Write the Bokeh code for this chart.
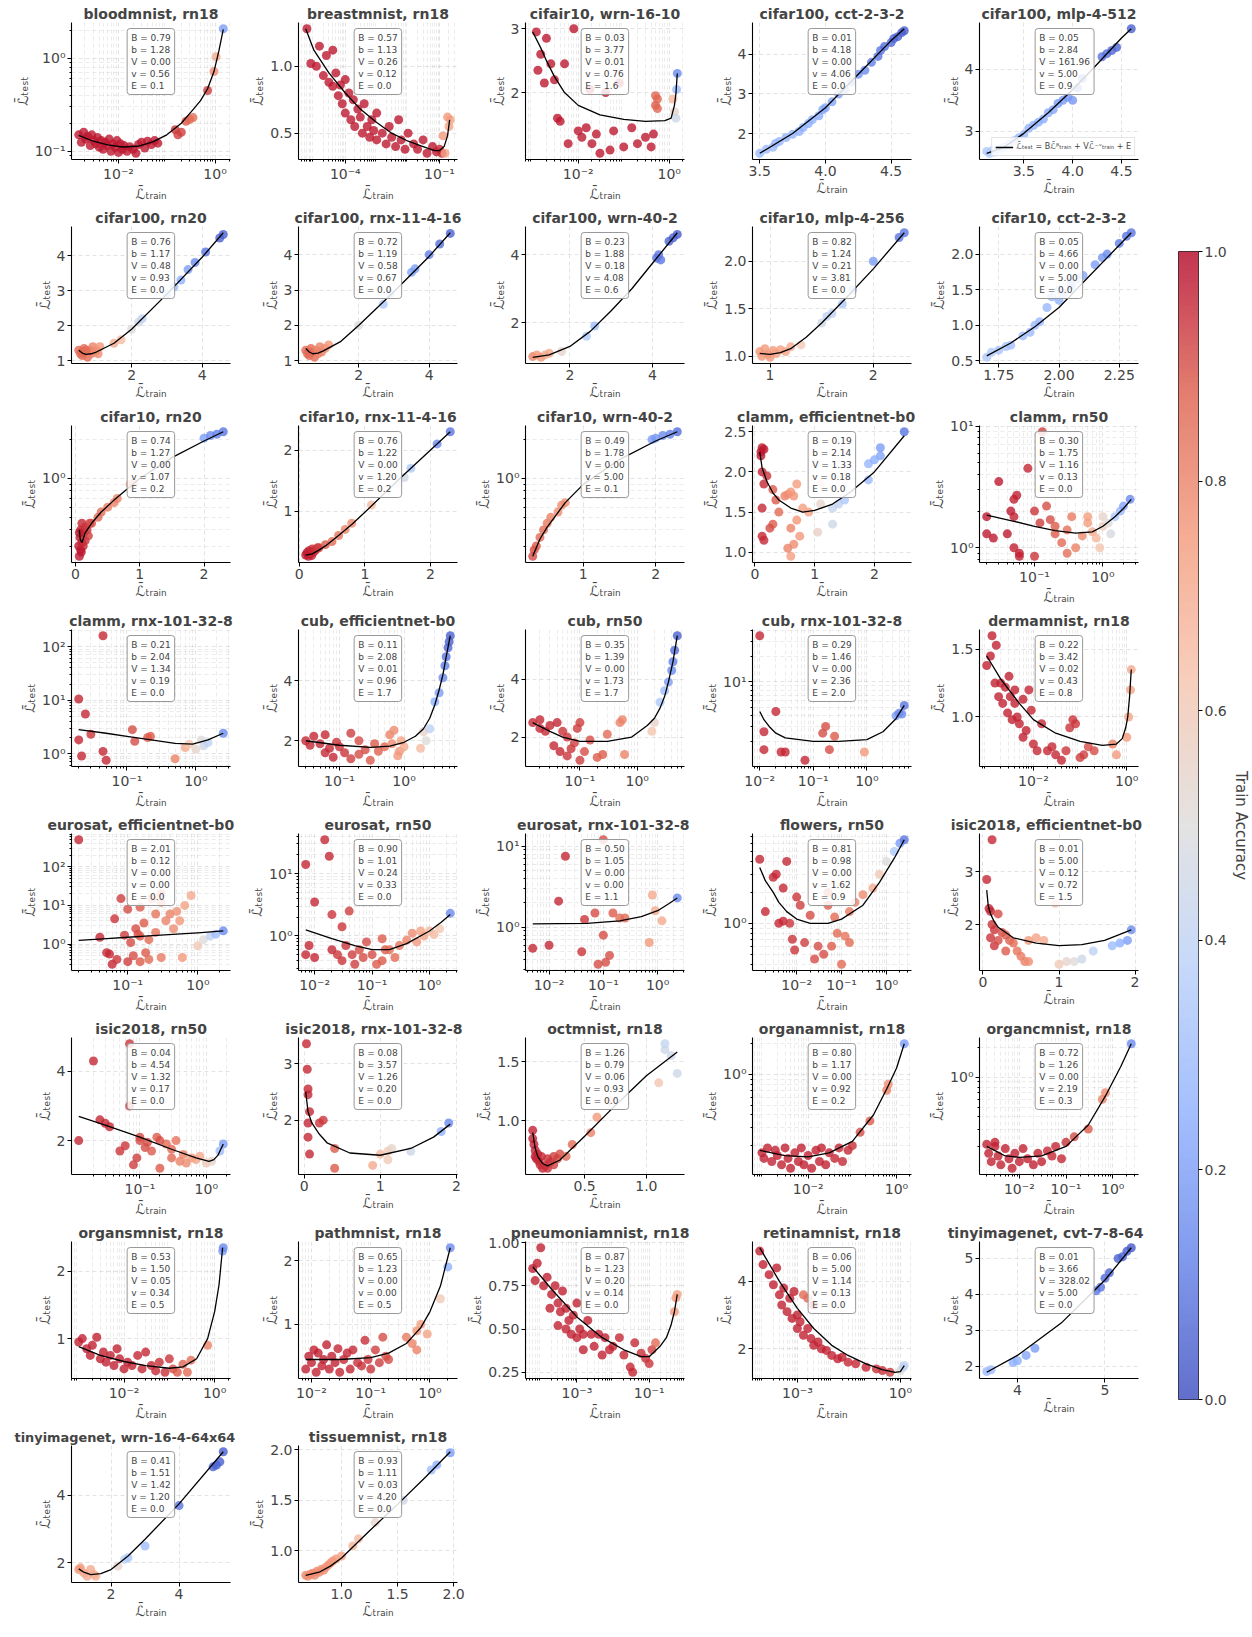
import numpy as np
from bokeh.plotting import figure
from bokeh.models import (Label, Legend, LegendItem, FixedTicker, CustomJSTickFormatter,
                          PrintfTickFormatter, LinearColorMapper, Spacer, ColumnDataSource)
from bokeh.layouts import row, column
from bokeh.transform import linear_cmap
from bokeh.embed import file_html
from bokeh.resources import INLINE

# ---------------- data ----------------
TITLES = [
    "bloodmnist, rn18", "breastmnist, rn18", "cifair10, wrn-16-10", "cifar100, cct-2-3-2", "cifar100, mlp-4-512",
    "cifar100, rn20", "cifar100, rnx-11-4-16", "cifar100, wrn-40-2", "cifar10, mlp-4-256", "cifar10, cct-2-3-2",
    "cifar10, rn20", "cifar10, rnx-11-4-16", "cifar10, wrn-40-2", "clamm, efficientnet-b0", "clamm, rn50",
    "clamm, rnx-101-32-8", "cub, efficientnet-b0", "cub, rn50", "cub, rnx-101-32-8", "dermamnist, rn18",
    "eurosat, efficientnet-b0", "eurosat, rn50", "eurosat, rnx-101-32-8", "flowers, rn50", "isic2018, efficientnet-b0",
    "isic2018, rn50", "isic2018, rnx-101-32-8", "octmnist, rn18", "organamnist, rn18", "organcmnist, rn18",
    "organsmnist, rn18", "pathmnist, rn18", "pneumoniamnist, rn18", "retinamnist, rn18", "tinyimagenet, cvt-7-8-64",
    "tinyimagenet, wrn-16-4-64x64", "tissuemnist, rn18",
]

# fitted parameters (B, b, V, v, E) as printed
PARAMS = [
    ("0.79", "1.28", "0.00", "0.56", "0.1"), ("0.57", "1.13", "0.26", "0.12", "0.0"),
    ("0.03", "3.77", "0.01", "0.76", "1.6"), ("0.01", "4.18", "0.00", "4.06", "0.0"),
    ("0.05", "2.84", "161.96", "5.00", "0.9"), ("0.76", "1.17", "0.48", "0.93", "0.0"),
    ("0.72", "1.19", "0.58", "0.67", "0.0"), ("0.23", "1.88", "0.18", "4.08", "0.6"),
    ("0.82", "1.24", "0.21", "3.81", "0.0"), ("0.05", "4.66", "0.00", "5.00", "0.0"),
    ("0.74", "1.27", "0.00", "1.07", "0.2"), ("0.76", "1.22", "0.00", "1.20", "0.2"),
    ("0.49", "1.78", "0.00", "5.00", "0.1"), ("0.19", "2.14", "1.33", "0.18", "0.0"),
    ("0.30", "1.75", "1.16", "0.13", "0.0"), ("0.21", "2.04", "1.34", "0.19", "0.0"),
    ("0.11", "2.08", "0.01", "0.96", "1.7"), ("0.35", "1.39", "0.00", "1.73", "1.7"),
    ("0.29", "1.46", "0.00", "2.36", "2.0"), ("0.22", "3.42", "0.02", "0.43", "0.8"),
    ("2.01", "0.12", "0.00", "0.00", "0.0"), ("0.90", "1.01", "0.24", "0.33", "0.0"),
    ("0.50", "1.05", "0.00", "0.00", "1.1"), ("0.81", "0.98", "0.00", "1.62", "0.9"),
    ("0.01", "5.00", "0.12", "0.72", "1.5"), ("0.04", "4.54", "1.32", "0.17", "0.0"),
    ("0.08", "3.57", "1.26", "0.20", "0.0"), ("1.26", "0.79", "0.06", "0.93", "0.0"),
    ("0.80", "1.17", "0.00", "0.92", "0.2"), ("0.72", "1.26", "0.00", "2.19", "0.3"),
    ("0.53", "1.50", "0.05", "0.34", "0.5"), ("0.65", "1.23", "0.00", "0.00", "0.5"),
    ("0.87", "1.23", "0.20", "0.14", "0.0"), ("0.06", "5.00", "1.14", "0.13", "0.0"),
    ("0.01", "3.66", "328.02", "5.00", "0.0"), ("0.41", "1.51", "1.42", "1.20", "0.0"),
    ("0.93", "1.11", "0.03", "4.20", "0.0"),
]

# scatter points (train loss, test loss, train accuracy) and fitted-curve points (train loss, test loss)
BLOODMNIST_RN18_PTS = [
    (0.0015, 0.150, 0.97), (0.0017, 0.125, 0.97), (0.0019, 0.160, 0.97), (0.0021, 0.135, 0.97), (0.0023, 0.145, 0.97),
    (0.0026, 0.115, 0.97), (0.0028, 0.150, 0.97), (0.0031, 0.130, 0.97), (0.0034, 0.120, 0.97), (0.0037, 0.140, 0.97),
    (0.0040, 0.110, 0.97), (0.0044, 0.130, 0.97), (0.0048, 0.105, 0.97), (0.0053, 0.125, 0.97), (0.0058, 0.115, 0.97),
    (0.0064, 0.135, 0.97), (0.0070, 0.100, 0.97), (0.0077, 0.120, 0.97), (0.0085, 0.110, 0.97), (0.0093, 0.130, 0.97),
    (0.0100, 0.097, 0.97), (0.0110, 0.120, 0.97), (0.0120, 0.105, 0.97), (0.0130, 0.115, 0.97), (0.0150, 0.100, 0.97),
    (0.0170, 0.112, 0.97), (0.0200, 0.105, 0.97), (0.0230, 0.095, 0.97), (0.0260, 0.118, 0.97), (0.0300, 0.125, 0.97),
    (0.0350, 0.108, 0.97), (0.0400, 0.128, 0.97), (0.0480, 0.118, 0.97), (0.0560, 0.130, 0.97), (0.0650, 0.122, 0.97),
    (0.15, 0.17, 0.93), (0.17, 0.15, 0.92), (0.20, 0.16, 0.92), (0.25, 0.21, 0.88), (0.30, 0.22, 0.86),
    (0.35, 0.23, 0.84), (0.70, 0.45, 0.92), (0.95, 0.72, 0.78), (1.05, 1.04, 0.70), (1.48, 2.08, 0.20),
]
BLOODMNIST_RN18_FIT = [(0.0015, 0.148), (0.003, 0.128), (0.006, 0.117), (0.012, 0.111), (0.025, 0.113), (0.05, 0.125),
                       (0.1, 0.15), (0.2, 0.2), (0.35, 0.28), (0.5, 0.35), (0.7, 0.47), (0.95, 0.72), (1.2, 1.2), (1.48, 2.05)]

BREASTMNIST_RN18_PTS = [
    (6e-6, 1.28, 0.97), (8e-6, 1.02, 0.97), (1.2e-5, 1.00, 0.97), (1.5e-5, 1.15, 0.97), (2e-5, 0.93, 0.97),
    (2.5e-5, 1.08, 0.97), (3e-5, 0.88, 0.97), (4e-5, 1.12, 0.97), (4e-5, 0.85, 0.97), (5e-5, 0.95, 0.97),
    (6e-5, 0.78, 0.97), (7e-5, 0.86, 0.97), (8e-5, 0.72, 0.97), (1e-4, 0.90, 0.97), (1e-4, 0.65, 0.97),
    (1.3e-4, 0.80, 0.97), (1.5e-4, 0.60, 0.97), (1.8e-4, 0.75, 0.97), (2e-4, 0.55, 0.97), (2.5e-4, 0.68, 0.97),
    (3e-4, 0.62, 0.97), (3.5e-4, 0.50, 0.97), (4e-4, 0.72, 0.97), (5e-4, 0.55, 0.97), (6e-4, 0.47, 0.97),
    (7e-4, 0.60, 0.97), (8e-4, 0.52, 0.97), (1e-3, 0.45, 0.97), (1e-3, 0.65, 0.97), (1.5e-3, 0.50, 0.97),
    (2e-3, 0.42, 0.97), (2.5e-3, 0.55, 0.97), (3e-3, 0.47, 0.97), (4e-3, 0.40, 0.97), (5e-3, 0.60, 0.97),
    (6e-3, 0.45, 0.97), (8e-3, 0.38, 0.97), (1e-2, 0.50, 0.97), (1.5e-2, 0.42, 0.97), (2e-2, 0.38, 0.97),
    (3e-2, 0.45, 0.97), (4e-2, 0.35, 0.97), (6e-2, 0.40, 0.97), (8e-2, 0.36, 0.97), (0.10, 0.38, 0.95),
    (0.12, 0.35, 0.95), (0.13, 0.48, 0.75), (0.15, 0.35, 0.72), (0.20, 0.55, 0.72), (0.22, 0.60, 0.72),
    (0.18, 0.62, 0.75),
]
BREASTMNIST_RN18_FIT = [(5.5e-6, 1.28), (1e-5, 1.12), (3e-5, 0.95), (1e-4, 0.80), (3e-4, 0.68), (1e-3, 0.58), (3e-3, 0.50),
                        (1e-2, 0.44), (3e-2, 0.40), (0.07, 0.37), (0.1, 0.37), (0.14, 0.40), (0.18, 0.48), (0.21, 0.60)]

CIFAIR10_WRN_PTS = [
    (0.0012, 2.95, 0.97), (0.0015, 2.60, 0.97), (0.0013, 2.35, 0.97), (0.0018, 2.15, 0.97), (0.002, 2.85, 0.97),
    (0.0025, 2.45, 0.97), (0.003, 2.20, 0.97), (0.0035, 1.60, 0.97), (0.004, 1.55, 0.97), (0.005, 2.45, 0.97),
    (0.006, 1.20, 0.97), (0.008, 3.00, 0.97), (0.01, 1.40, 0.97), (0.012, 1.30, 0.97), (0.015, 1.45, 0.97),
    (0.018, 2.05, 0.97), (0.02, 1.20, 0.97), (0.025, 1.35, 0.97), (0.03, 1.05, 0.97), (0.04, 2.00, 0.97),
    (0.05, 1.10, 0.97), (0.06, 1.40, 0.97), (0.08, 2.15, 0.97), (0.1, 1.15, 0.97), (0.15, 1.45, 0.97),
    (0.2, 1.20, 0.97), (0.3, 1.30, 0.97), (0.4, 1.15, 0.97), (0.45, 1.35, 0.97), (0.5, 1.80, 0.88),
    (0.55, 1.90, 0.86), (0.5, 1.95, 0.86), (0.55, 1.75, 0.86), (1.2, 1.90, 0.66), (1.3, 1.70, 0.55),
    (1.4, 1.60, 0.45), (1.45, 2.05, 0.30), (1.5, 2.30, 0.15),
]
CIFAIR10_WRN_FIT = [(0.001, 2.95), (0.0015, 2.7), (0.002, 2.5), (0.003, 2.25), (0.005, 2.0), (0.01, 1.8), (0.03, 1.65),
                    (0.1, 1.58), (0.3, 1.55), (0.8, 1.56), (1.1, 1.6), (1.3, 1.8), (1.4, 1.98), (1.5, 2.3)]

CIFAR100_CCT_PTS = [
    (3.50, 1.50, 0.30), (3.55, 1.60, 0.30), (3.60, 1.65, 0.30), (3.62, 1.75, 0.28), (3.65, 1.80, 0.28),
    (3.70, 1.90, 0.27), (3.75, 1.98, 0.27), (3.80, 2.05, 0.26), (3.83, 2.15, 0.25), (3.87, 2.25, 0.25),
    (3.90, 2.35, 0.25), (3.95, 2.45, 0.24), (3.98, 2.60, 0.23), (4.00, 2.65, 0.23), (4.05, 2.80, 0.22),
    (4.10, 3.00, 0.20), (4.15, 3.10, 0.20), (4.20, 3.30, 0.18), (4.25, 3.50, 0.17), (4.30, 3.60, 0.15),
    (4.35, 3.80, 0.12), (4.40, 3.95, 0.10), (4.42, 4.10, 0.10), (4.45, 4.20, 0.08), (4.50, 4.30, 0.07),
    (4.52, 4.40, 0.06), (4.55, 4.45, 0.05), (4.58, 4.55, 0.05), (4.60, 4.60, 0.04),
]
CIFAR100_CCT_FIT = [(3.5, 1.5), (3.75, 2.0), (4.0, 2.65), (4.25, 3.5), (4.5, 4.35), (4.6, 4.65)]

CIFAR100_MLP_PTS = [
    (3.12, 2.68, 0.35), (3.15, 2.65, 0.35), (3.18, 2.70, 0.35), (3.20, 2.67, 0.33), (3.25, 2.72, 0.33),
    (3.30, 2.75, 0.32), (3.35, 2.80, 0.30), (3.40, 2.85, 0.30), (3.45, 2.90, 0.28), (3.50, 2.95, 0.28),
    (3.55, 3.05, 0.27), (3.60, 3.10, 0.26), (3.65, 3.15, 0.25), (3.70, 3.20, 0.25), (3.75, 3.30, 0.24),
    (3.80, 3.35, 0.22), (3.85, 3.45, 0.20), (3.90, 3.50, 0.20), (3.95, 3.55, 0.18), (4.00, 3.50, 0.18),
    (4.05, 3.70, 0.15), (4.10, 3.85, 0.15), (4.30, 4.20, 0.10), (4.35, 4.25, 0.08), (4.40, 4.30, 0.07),
    (4.45, 4.35, 0.06), (4.60, 4.65, 0.05),
]
CIFAR100_MLP_FIT = [(3.12, 2.65), (3.3, 2.75), (3.5, 2.97), (3.75, 3.3), (4.0, 3.67), (4.25, 4.08), (4.5, 4.5), (4.6, 4.65)]

CIFAR100_RN20_PTS = [
    (0.50, 1.30, 0.85), (0.55, 1.20, 0.85), (0.60, 1.15, 0.85), (0.65, 1.35, 0.85), (0.70, 1.25, 0.85),
    (0.75, 1.10, 0.85), (0.80, 1.30, 0.80), (0.85, 1.20, 0.80), (0.90, 1.40, 0.80), (0.95, 1.25, 0.80),
    (1.00, 1.30, 0.78), (1.05, 1.20, 0.78), (1.10, 1.40, 0.76), (0.60, 1.25, 0.85), (0.70, 1.30, 0.85),
    (1.50, 1.50, 0.70), (1.70, 1.60, 0.65), (2.00, 1.90, 0.50), (2.20, 2.10, 0.45), (2.30, 2.20, 0.40),
    (3.00, 2.90, 0.30), (3.20, 3.10, 0.30), (3.40, 3.30, 0.25), (3.60, 3.60, 0.20), (3.80, 3.80, 0.15),
    (4.10, 4.10, 0.10), (4.50, 4.50, 0.05), (4.60, 4.60, 0.05),
]
CIFAR100_RN20_FIT = [(0.5, 1.3), (0.6, 1.22), (0.7, 1.18), (0.85, 1.2), (1.0, 1.25), (1.5, 1.5), (2.0, 1.9), (3.0, 2.9),
                     (4.0, 3.95), (4.6, 4.65)]

CIFAR100_RNX_PTS = [
    (0.50, 1.30, 0.85), (0.55, 1.20, 0.85), (0.60, 1.15, 0.85), (0.65, 1.35, 0.85), (0.70, 1.25, 0.85),
    (0.75, 1.10, 0.85), (0.80, 1.30, 0.80), (0.85, 1.20, 0.80), (0.90, 1.40, 0.80), (0.95, 1.25, 0.80),
    (1.05, 1.35, 0.78), (1.15, 1.45, 0.76), (0.60, 1.25, 0.85), (2.00, 2.00, 0.50), (2.70, 2.60, 0.35),
    (2.90, 2.90, 0.30), (3.50, 3.50, 0.22), (3.60, 3.60, 0.20), (4.00, 4.00, 0.12), (4.30, 4.30, 0.08),
    (4.60, 4.60, 0.05),
]
CIFAR100_RNX_FIT = [(0.5, 1.35), (0.6, 1.25), (0.7, 1.2), (0.85, 1.22), (1.0, 1.28), (1.5, 1.55), (2.0, 2.0), (3.0, 2.95),
                    (4.0, 3.95), (4.6, 4.62)]

CIFAR100_WRN_PTS = [
    (1.10, 1.00, 0.80), (1.20, 1.05, 0.75), (1.30, 0.98, 0.75), (1.40, 1.05, 0.70), (1.50, 1.10, 0.70),
    (1.80, 1.15, 0.55), (2.40, 1.60, 0.35), (2.60, 1.90, 0.30), (4.10, 3.90, 0.10), (4.15, 4.00, 0.10),
    (4.20, 3.85, 0.10), (4.40, 4.40, 0.06), (4.50, 4.50, 0.05), (4.60, 4.60, 0.04),
]
CIFAR100_WRN_FIT = [(1.1, 0.98), (1.5, 1.05), (2.0, 1.3), (2.5, 1.75), (3.0, 2.35), (3.5, 3.0), (4.0, 3.75), (4.6, 4.65)]

CIFAR10_MLP_PTS = [
    (0.90, 1.05, 0.75), (0.92, 1.00, 0.75), (0.95, 1.08, 0.75), (0.98, 1.02, 0.75), (1.00, 0.99, 0.75),
    (1.03, 1.06, 0.75), (1.06, 1.03, 0.73), (1.10, 1.07, 0.73), (1.15, 1.05, 0.72), (1.20, 1.10, 0.70),
    (1.30, 1.12, 0.60), (1.50, 1.35, 0.45), (1.55, 1.42, 0.40), (1.60, 1.45, 0.40), (1.70, 1.55, 0.35),
    (1.80, 1.70, 0.30), (2.00, 2.00, 0.20), (2.25, 2.25, 0.10), (2.30, 2.30, 0.10),
]
CIFAR10_MLP_FIT = [(0.9, 1.03), (1.0, 1.02), (1.1, 1.04), (1.2, 1.08), (1.35, 1.2), (1.5, 1.35), (1.75, 1.63), (2.0, 1.92),
                   (2.3, 2.3)]

CIFAR10_CCT_PTS = [
    (1.70, 0.55, 0.35), (1.72, 0.62, 0.35), (1.75, 0.65, 0.33), (1.78, 0.70, 0.33), (1.80, 0.72, 0.32),
    (1.85, 0.85, 0.30), (1.88, 0.90, 0.30), (1.90, 1.00, 0.30), (1.92, 1.05, 0.28), (1.95, 1.25, 0.28),
    (1.97, 1.40, 0.27), (2.00, 1.50, 0.26), (2.02, 1.45, 0.26), (2.05, 1.60, 0.25), (2.07, 1.65, 0.25),
    (2.10, 1.70, 0.22), (2.15, 1.85, 0.20), (2.18, 1.95, 0.18), (2.20, 2.00, 0.15), (2.25, 2.15, 0.12),
    (2.28, 2.25, 0.10), (2.30, 2.30, 0.10), (2.00, 1.35, 0.27), (2.05, 1.55, 0.26),
]
CIFAR10_CCT_FIT = [(1.7, 0.57), (1.8, 0.75), (1.9, 0.98), (2.0, 1.25), (2.1, 1.6), (2.2, 1.95), (2.3, 2.3)]

CIFAR10_RN20_PTS = [
    (0.05, 0.30, 0.97), (0.06, 0.25, 0.97), (0.07, 0.35, 0.97), (0.08, 0.28, 0.97), (0.08, 0.40, 0.96),
    (0.10, 0.32, 0.96), (0.10, 0.45, 0.95), (0.12, 0.30, 0.95), (0.13, 0.38, 0.95), (0.15, 0.42, 0.94),
    (0.15, 0.33, 0.94), (0.18, 0.40, 0.93), (0.20, 0.36, 0.92), (0.22, 0.45, 0.92), (0.06, 0.38, 0.97),
    (0.09, 0.27, 0.97), (0.25, 0.45, 0.90), (0.35, 0.50, 0.85), (0.40, 0.55, 0.85), (0.50, 0.60, 0.82),
    (0.60, 0.65, 0.80), (0.65, 0.70, 0.80), (0.85, 0.90, 0.75), (0.90, 0.92, 0.75), (2.00, 2.05, 0.20),
    (2.10, 2.15, 0.15), (2.20, 2.20, 0.12), (2.30, 2.30, 0.10),
]
CIFAR10_RN20_FIT = [(0.06, 0.40), (0.07, 0.35), (0.08, 0.33), (0.1, 0.32), (0.12, 0.34), (0.15, 0.38), (0.25, 0.45),
                    (0.4, 0.55), (0.6, 0.68), (1.0, 1.0), (1.5, 1.45), (2.0, 1.95), (2.3, 2.3)]

CIFAR10_RNX_PTS = [
    (0.10, 0.28, 0.97), (0.12, 0.32, 0.97), (0.14, 0.26, 0.97), (0.15, 0.35, 0.96), (0.17, 0.30, 0.96),
    (0.19, 0.27, 0.96), (0.20, 0.38, 0.95), (0.22, 0.33, 0.95), (0.25, 0.36, 0.94), (0.28, 0.40, 0.93),
    (0.30, 0.40, 0.92), (0.40, 0.45, 0.88), (0.50, 0.50, 0.85), (0.60, 0.60, 0.83), (0.70, 0.70, 0.80),
    (0.80, 0.80, 0.78), (1.10, 1.10, 0.65), (1.50, 1.45, 0.50), (1.60, 1.55, 0.45), (1.70, 1.70, 0.35),
    (2.10, 2.10, 0.15), (2.30, 2.30, 0.10),
]
CIFAR10_RNX_FIT = [(0.1, 0.28), (0.2, 0.3), (0.3, 0.36), (0.4, 0.43), (0.6, 0.6), (0.8, 0.78), (1.0, 0.98), (1.5, 1.5),
                   (2.0, 2.0), (2.3, 2.3)]

CIFAR10_WRN_PTS = [
    (0.30, 0.25, 0.90), (0.32, 0.28, 0.90), (0.35, 0.30, 0.88), (0.40, 0.35, 0.85), (0.45, 0.40, 0.85),
    (0.50, 0.45, 0.82), (0.55, 0.50, 0.80), (0.65, 0.55, 0.78), (0.70, 0.62, 0.78), (0.75, 0.65, 0.78),
    (1.95, 2.00, 0.20), (2.00, 2.05, 0.18), (2.10, 2.15, 0.15), (2.20, 2.20, 0.12), (2.30, 2.30, 0.08),
]
CIFAR10_WRN_FIT = [(0.3, 0.25), (0.4, 0.34), (0.5, 0.42), (0.75, 0.65), (1.0, 0.9), (1.5, 1.4), (2.0, 1.95), (2.3, 2.3)]

CLAMM_EFF_PTS = [
    (0.10, 2.25, 0.97), (0.12, 2.30, 0.97), (0.15, 2.28, 0.97), (0.10, 2.20, 0.97), (0.12, 2.00, 0.96),
    (0.15, 1.85, 0.95), (0.20, 1.95, 0.93), (0.12, 1.55, 0.95), (0.15, 1.15, 0.95), (0.12, 1.20, 0.95),
    (0.30, 1.78, 0.88), (0.35, 1.65, 0.88), (0.30, 1.35, 0.88), (0.25, 1.30, 0.90), (0.40, 1.50, 0.85),
    (0.50, 1.70, 0.80), (0.55, 1.72, 0.78), (0.60, 1.75, 0.76), (0.65, 1.70, 0.76), (0.70, 1.85, 0.74),
    (0.60, 1.30, 0.80), (0.65, 1.10, 0.78), (0.70, 1.40, 0.76), (0.75, 1.20, 0.75), (0.80, 1.55, 0.74),
    (0.90, 1.50, 0.72), (0.60, 0.95, 0.74), (0.55, 1.05, 0.80), (1.10, 1.85, 0.60), (1.10, 1.60, 0.55),
    (1.05, 1.25, 0.56), (1.30, 1.35, 0.45), (1.30, 1.55, 0.42), (1.40, 1.60, 0.40), (1.50, 1.65, 0.35),
    (1.90, 1.90, 0.30), (1.90, 2.10, 0.28), (2.00, 2.15, 0.25), (2.10, 2.20, 0.22), (2.10, 2.30, 0.20),
    (2.50, 2.50, 0.10),
]
CLAMM_EFF_FIT = [(0.08, 2.25), (0.12, 2.05), (0.2, 1.88), (0.3, 1.74), (0.4, 1.65), (0.6, 1.55), (0.8, 1.5), (1.0, 1.52),
                 (1.3, 1.6), (1.6, 1.75), (2.0, 2.0), (2.5, 2.45)]

CLAMM_RN50_PTS = [
    (0.020, 1.8, 0.97), (0.020, 1.3, 0.97), (0.025, 1.2, 0.97), (0.030, 3.5, 0.97), (0.040, 1.3, 0.97),
    (0.045, 2.0, 0.97), (0.050, 1.8, 0.96), (0.050, 2.5, 0.96), (0.055, 2.7, 0.96), (0.050, 1.0, 0.96),
    (0.060, 0.9, 0.96), (0.060, 0.85, 0.96), (0.080, 4.5, 0.95), (0.10, 2.0, 0.93), (0.10, 0.85, 0.93),
    (0.12, 1.6, 0.92), (0.13, 9.0, 0.92), (0.15, 2.2, 0.90), (0.17, 1.7, 0.90), (0.20, 1.5, 0.88),
    (0.20, 1.3, 0.88), (0.25, 1.1, 0.85), (0.30, 0.9, 0.84), (0.30, 1.4, 0.84), (0.35, 1.8, 0.82),
    (0.40, 1.0, 0.80), (0.50, 1.25, 0.78), (0.60, 1.8, 0.74), (0.60, 1.6, 0.74), (0.70, 1.35, 0.70),
    (0.80, 1.2, 0.66), (0.90, 1.0, 0.62), (1.0, 1.5, 0.58), (1.0, 1.8, 0.55), (1.2, 1.6, 0.50),
    (1.3, 1.3, 0.48), (1.5, 1.8, 0.35), (1.8, 2.0, 0.28), (2.0, 2.2, 0.22), (2.5, 2.5, 0.15),
]
CLAMM_RN50_FIT = [(0.02, 1.85), (0.05, 1.65), (0.1, 1.5), (0.2, 1.38), (0.4, 1.32), (0.7, 1.35), (1.0, 1.5), (1.5, 1.8),
                  (2.0, 2.1), (2.6, 2.5)]

CLAMM_RNX_PTS = [
    (0.020, 10.5, 0.95), (0.020, 1.8, 0.95), (0.022, 0.9, 0.95), (0.025, 5.5, 0.95), (0.030, 2.3, 0.93),
    (0.045, 160.0, 0.95), (0.045, 1.1, 0.95), (0.050, 0.75, 0.95), (0.12, 2.8, 0.90), (0.13, 1.7, 0.90),
    (0.20, 2.0, 0.88), (0.22, 2.1, 0.88), (0.50, 0.8, 0.80), (0.70, 1.3, 0.70), (0.80, 1.5, 0.62),
    (1.00, 1.2, 0.55), (1.20, 1.8, 0.50), (1.30, 1.4, 0.45), (1.50, 1.6, 0.40), (2.50, 2.4, 0.15),
]
CLAMM_RNX_FIT = [(0.02, 2.8), (0.05, 2.4), (0.1, 2.1), (0.2, 1.85), (0.5, 1.55), (0.9, 1.5), (1.5, 1.8), (2.5, 2.4)]

CUB_EFF_PTS = [
    (0.030, 2.00, 0.95), (0.035, 1.85, 0.95), (0.040, 2.15, 0.95), (0.050, 1.90, 0.95), (0.060, 1.60, 0.95),
    (0.060, 2.20, 0.95), (0.070, 1.75, 0.95), (0.080, 1.45, 0.95), (0.090, 1.95, 0.93), (0.10, 1.80, 0.93),
    (0.12, 1.60, 0.93), (0.15, 2.25, 0.92), (0.15, 1.40, 0.92), (0.20, 2.00, 0.90), (0.20, 1.55, 0.90),
    (0.25, 1.70, 0.90), (0.30, 1.35, 0.88), (0.35, 1.90, 0.88), (0.40, 1.65, 0.87), (0.50, 1.80, 0.85),
    (0.60, 2.20, 0.80), (0.65, 1.90, 0.78), (0.70, 2.35, 0.78), (0.80, 1.50, 0.75), (0.85, 1.65, 0.75),
    (0.90, 2.00, 0.72), (1.00, 1.80, 0.70), (1.80, 1.75, 0.65), (2.00, 2.30, 0.55), (2.20, 2.00, 0.50),
    (2.50, 2.40, 0.40), (3.00, 3.30, 0.25), (3.50, 3.60, 0.20), (4.00, 4.10, 0.15), (4.30, 4.50, 0.12),
    (4.50, 4.80, 0.10), (4.80, 5.10, 0.07), (5.00, 5.30, 0.05), (5.20, 5.50, 0.05),
]
CUB_EFF_FIT = [(0.03, 2.0), (0.1, 1.85), (0.3, 1.78), (0.6, 1.82), (1.0, 1.95), (1.5, 2.15), (2.0, 2.4), (2.5, 2.75),
               (3.0, 3.2), (3.5, 3.7), (4.0, 4.2), (4.5, 4.8), (5.2, 5.5)]

CUB_RN50_PTS = [
    (0.015, 2.50, 0.95), (0.020, 2.30, 0.95), (0.020, 2.60, 0.95), (0.025, 2.20, 0.95), (0.030, 2.40, 0.95),
    (0.035, 1.70, 0.95), (0.040, 2.50, 0.95), (0.045, 1.50, 0.95), (0.050, 2.20, 0.93), (0.060, 2.00, 0.93),
    (0.060, 1.35, 0.93), (0.070, 1.60, 0.93), (0.080, 1.80, 0.92), (0.090, 2.30, 0.92), (0.10, 2.50, 0.92),
    (0.10, 1.20, 0.92), (0.12, 1.50, 0.90), (0.15, 1.90, 0.90), (0.20, 1.30, 0.88), (0.25, 1.40, 0.88),
    (0.30, 2.10, 0.85), (0.50, 2.50, 0.80), (0.55, 2.60, 0.80), (0.60, 1.40, 0.80), (1.80, 2.20, 0.62),
    (2.00, 2.50, 0.55), (2.50, 3.20, 0.35), (3.00, 3.60, 0.30), (3.50, 3.90, 0.20), (4.00, 4.30, 0.15),
    (4.20, 4.60, 0.12), (4.50, 5.00, 0.08), (5.00, 5.50, 0.05),
]
CUB_RN50_FIT = [(0.015, 2.5), (0.03, 2.2), (0.05, 2.0), (0.1, 1.85), (0.3, 1.85), (0.8, 2.0), (1.5, 2.4), (2.0, 2.65),
                (2.5, 3.0), (3.0, 3.4), (3.5, 3.9), (4.2, 4.6), (5.0, 5.5)]

CUB_RNX_PTS = [
    (0.010, 35.0, 0.95), (0.012, 1.6, 0.95), (0.012, 2.6, 0.95), (0.020, 4.5, 0.95), (0.025, 1.5, 0.95),
    (0.030, 1.5, 0.95), (0.070, 1.2, 0.95), (0.15, 2.5, 0.90), (0.17, 3.0, 0.90), (0.20, 1.6, 0.90),
    (0.25, 2.3, 0.88), (0.90, 1.5, 0.75), (3.50, 4.0, 0.20), (4.00, 4.3, 0.15), (4.50, 4.2, 0.15),
    (5.00, 5.3, 0.10),
]
CUB_RNX_FIT = [(0.01, 4.5), (0.012, 3.6), (0.015, 3.0), (0.02, 2.5), (0.03, 2.2), (0.1, 2.0), (0.3, 2.0), (1.0, 2.1),
               (2.0, 2.6), (3.5, 3.7), (5.0, 5.3)]

DERMAMNIST_RN18_PTS = [
    (0.0010, 1.38, 0.96), (0.0012, 1.45, 0.96), (0.0013, 1.60, 0.96), (0.0015, 1.25, 0.96), (0.0016, 1.53, 0.96),
    (0.0018, 1.15, 0.96), (0.0020, 1.25, 0.96), (0.0022, 1.10, 0.96), (0.0025, 1.22, 0.96), (0.0028, 1.03, 0.96),
    (0.0030, 1.30, 0.96), (0.0032, 1.15, 0.96), (0.0035, 0.98, 0.96), (0.0040, 1.10, 0.96), (0.0040, 1.20, 0.96),
    (0.0045, 1.00, 0.96), (0.0050, 0.95, 0.96), (0.0060, 0.85, 0.96), (0.0060, 1.13, 0.96), (0.0070, 0.90, 0.96),
    (0.0080, 1.20, 0.95), (0.0090, 1.05, 0.95), (0.010, 0.80, 0.95), (0.012, 0.75, 0.95), (0.015, 0.95, 0.95),
    (0.020, 0.75, 0.95), (0.025, 0.78, 0.95), (0.030, 0.72, 0.95), (0.040, 0.68, 0.95), (0.050, 0.75, 0.93),
    (0.060, 0.92, 0.93), (0.070, 0.98, 0.93), (0.080, 0.95, 0.93), (0.10, 0.70, 0.92), (0.12, 0.72, 0.92),
    (0.15, 0.78, 0.90), (0.20, 0.75, 0.90), (0.50, 0.80, 0.80), (0.60, 0.72, 0.75), (1.00, 0.85, 0.75),
    (1.10, 1.00, 0.72), (1.20, 1.20, 0.72), (1.25, 1.35, 0.70),
]
DERMAMNIST_RN18_FIT = [(0.001, 1.45), (0.002, 1.28), (0.005, 1.1), (0.01, 0.98), (0.03, 0.88), (0.1, 0.82), (0.3, 0.79),
                       (0.6, 0.8), (0.8, 0.84), (0.95, 0.92), (1.05, 1.0), (1.15, 1.15), (1.25, 1.35)]

EUROSAT_EFF_PTS = [
    (0.020, 500.0, 0.95), (0.040, 1.5, 0.95), (0.050, 0.6, 0.95), (0.055, 0.55, 0.95), (0.060, 0.30, 0.95),
    (0.065, 4.5, 0.93), (0.070, 0.40, 0.93), (0.080, 15.0, 0.92), (0.090, 1.7, 0.92), (0.10, 0.35, 0.92),
    (0.10, 8.0, 0.90), (0.11, 1.1, 0.90), (0.12, 0.50, 0.90), (0.13, 2.5, 0.90), (0.14, 1.8, 0.90),
    (0.15, 0.35, 0.88), (0.15, 9.0, 0.88), (0.17, 3.5, 0.88), (0.18, 0.60, 0.88), (0.20, 1.3, 0.85),
    (0.20, 0.40, 0.85), (0.22, 15.0, 0.85), (0.25, 6.0, 0.83), (0.25, 2.0, 0.83), (0.30, 0.45, 0.82),
    (0.30, 12.0, 0.82), (0.35, 4.0, 0.80), (0.40, 6.0, 0.80), (0.45, 2.5, 0.78), (0.50, 7.0, 0.77),
    (0.55, 4.0, 0.75), (0.60, 0.45, 0.75), (0.65, 10.0, 0.72), (0.80, 18.0, 0.70), (1.00, 0.9, 0.60),
    (1.20, 1.3, 0.50), (1.50, 1.6, 0.40), (1.80, 1.8, 0.30), (2.30, 2.2, 0.15), (0.30, 20.0, 0.85),
    (0.15, 1.6, 0.88),
]
EUROSAT_EFF_FIT = [(0.02, 1.25), (0.05, 1.38), (0.1, 1.5), (0.2, 1.62), (0.5, 1.8), (1.0, 1.95), (2.3, 2.2)]

EUROSAT_RN50_PTS = [
    (0.007, 14.0, 0.95), (0.007, 0.50, 0.95), (0.008, 0.70, 0.95), (0.010, 3.5, 0.95), (0.010, 0.45, 0.95),
    (0.015, 35.0, 0.95), (0.018, 19.0, 0.95), (0.020, 0.60, 0.95), (0.020, 2.2, 0.93), (0.025, 0.50, 0.93),
    (0.030, 0.40, 0.93), (0.030, 1.4, 0.93), (0.035, 0.70, 0.93), (0.040, 2.5, 0.92), (0.045, 0.50, 0.92),
    (0.050, 0.35, 0.92), (0.060, 0.60, 0.90), (0.070, 0.45, 0.90), (0.080, 0.80, 0.90), (0.10, 0.50, 0.90),
    (0.12, 0.35, 0.88), (0.15, 0.90, 0.88), (0.15, 0.40, 0.88), (0.17, 0.60, 0.88), (0.20, 0.60, 0.85),
    (0.25, 0.45, 0.85), (0.30, 0.70, 0.83), (0.40, 0.85, 0.80), (0.50, 1.10, 0.78), (0.60, 0.80, 0.75),
    (0.70, 1.20, 0.72), (0.80, 1.00, 0.72), (1.00, 1.20, 0.65), (1.20, 1.05, 0.65), (1.50, 1.30, 0.60),
    (2.30, 2.30, 0.15),
]
EUROSAT_RN50_FIT = [(0.007, 1.25), (0.02, 0.9), (0.05, 0.7), (0.1, 0.6), (0.2, 0.6), (0.4, 0.75), (1.0, 1.2), (1.6, 1.65),
                    (2.3, 2.2)]

EUROSAT_RNX_PTS = [
    (0.005, 0.55, 0.95), (0.010, 0.60, 0.95), (0.015, 2.1, 0.95), (0.020, 7.5, 0.95), (0.040, 0.50, 0.93),
    (0.045, 1.25, 0.93), (0.070, 1.5, 0.90), (0.080, 0.35, 0.90), (0.10, 0.80, 0.90), (0.11, 0.37, 0.90),
    (0.13, 0.45, 0.90), (0.15, 1.5, 0.88), (0.20, 1.3, 0.85), (0.25, 1.3, 0.85), (0.70, 0.65, 0.75),
    (0.80, 2.5, 0.70), (0.90, 1.6, 0.70), (1.20, 1.2, 0.70), (2.30, 2.3, 0.15), (0.10, 12.0, 0.90),
]
EUROSAT_RNX_FIT = [(0.005, 1.1), (0.05, 1.12), (0.2, 1.2), (0.5, 1.35), (1.0, 1.6), (1.6, 1.95), (2.3, 2.3)]

FLOWERS_RN50_PTS = [
    (0.0015, 4.2, 0.95), (0.002, 1.3, 0.95), (0.003, 2.8, 0.95), (0.0035, 3.0, 0.95), (0.004, 1.0, 0.95),
    (0.005, 1.05, 0.95), (0.005, 2.2, 0.95), (0.006, 4.0, 0.95), (0.007, 1.0, 0.93), (0.008, 0.70, 0.93),
    (0.009, 0.55, 0.93), (0.010, 1.8, 0.93), (0.012, 1.5, 0.92), (0.015, 0.65, 0.92), (0.020, 1.2, 0.90),
    (0.025, 0.45, 0.90), (0.030, 0.60, 0.90), (0.040, 0.50, 0.90), (0.050, 1.5, 0.88), (0.060, 0.60, 0.88),
    (0.070, 1.15, 0.85), (0.080, 0.80, 0.85), (0.10, 0.40, 0.85), (0.12, 0.75, 0.83), (0.15, 1.3, 0.82),
    (0.20, 1.6, 0.80), (0.30, 1.9, 0.78), (0.50, 2.2, 0.70), (0.70, 3.0, 0.60), (1.00, 4.0, 0.50),
    (1.50, 5.0, 0.35), (2.00, 6.0, 0.20), (2.50, 6.5, 0.10), (0.15, 0.65, 0.85), (0.050, 2.0, 0.88),
]
FLOWERS_RN50_FIT = [(0.0015, 3.5), (0.002, 2.6), (0.003, 2.0), (0.004, 1.6), (0.006, 1.3), (0.01, 1.1), (0.02, 1.0),
                    (0.05, 1.0), (0.1, 1.1), (0.3, 1.5), (0.7, 2.5), (1.5, 4.3), (2.5, 6.5)]

ISIC_EFF_PTS = [
    (0.05, 2.85, 0.95), (0.08, 2.30, 0.95), (0.10, 2.25, 0.95), (0.12, 3.60, 0.95), (0.12, 2.00, 0.93),
    (0.15, 1.90, 0.93), (0.15, 1.60, 0.93), (0.20, 1.70, 0.90), (0.20, 2.20, 0.90), (0.25, 1.85, 0.90),
    (0.30, 1.50, 0.88), (0.35, 1.70, 0.87), (0.40, 1.65, 0.85), (0.45, 1.50, 0.83), (0.50, 1.40, 0.82),
    (0.55, 1.30, 0.80), (0.60, 1.30, 0.78), (0.60, 1.70, 0.75), (0.70, 1.75, 0.72), (0.80, 1.70, 0.70),
    (0.95, 2.40, 0.65), (1.00, 1.25, 0.60), (1.10, 1.30, 0.55), (1.20, 1.30, 0.50), (1.30, 1.35, 0.45),
    (1.45, 1.50, 0.40), (1.70, 1.60, 0.30), (1.80, 1.65, 0.25), (1.90, 1.70, 0.20), (1.95, 1.90, 0.15),
    (0.30, 1.80, 0.88), (0.10, 1.75, 0.93),
]
ISIC_EFF_FIT = [(0.05, 2.65), (0.07, 2.35), (0.1, 2.2), (0.15, 2.05), (0.2, 1.95), (0.4, 1.75), (0.7, 1.65), (1.0, 1.6),
                (1.3, 1.62), (1.6, 1.7), (1.95, 1.9)]

ISIC_RN50_PTS = [
    (0.012, 2.00, 0.95), (0.020, 4.30, 0.95), (0.025, 2.60, 0.95), (0.030, 2.50, 0.95), (0.035, 2.40, 0.95),
    (0.050, 1.70, 0.93), (0.060, 1.85, 0.93), (0.070, 3.00, 0.93), (0.070, 4.80, 0.93), (0.080, 1.30, 0.92),
    (0.090, 1.50, 0.92), (0.10, 2.10, 0.90), (0.10, 2.00, 0.90), (0.12, 1.80, 0.90), (0.13, 1.95, 0.90),
    (0.15, 1.70, 0.88), (0.18, 2.10, 0.88), (0.20, 1.20, 0.88), (0.25, 1.90, 0.85), (0.30, 1.75, 0.85),
    (0.35, 2.00, 0.83), (0.40, 1.40, 0.80), (0.45, 1.60, 0.80), (0.50, 1.35, 0.78), (0.60, 1.50, 0.75),
    (0.70, 1.45, 0.72), (0.80, 1.55, 0.70), (1.00, 1.35, 0.60), (1.20, 1.40, 0.55), (1.60, 1.70, 0.30),
    (1.80, 1.90, 0.20), (0.20, 2.00, 0.90), (0.30, 1.50, 0.85),
]
ISIC_RN50_FIT = [(0.012, 2.7), (0.03, 2.45), (0.1, 2.1), (0.3, 1.75), (0.7, 1.5), (1.1, 1.4), (1.3, 1.45), (1.5, 1.58),
                 (1.8, 1.9)]

ISIC_RNX_PTS = [
    (0.03, 3.35, 0.95), (0.04, 2.90, 0.95), (0.05, 2.55, 0.95), (0.05, 2.45, 0.95), (0.07, 2.15, 0.95),
    (0.05, 1.95, 0.95), (0.05, 1.70, 0.95), (0.07, 1.40, 0.95), (0.20, 1.95, 0.93), (0.25, 2.00, 0.93),
    (0.40, 1.50, 0.88), (0.40, 1.15, 0.88), (0.90, 1.20, 0.70), (1.00, 1.40, 0.65), (1.10, 1.45, 0.60),
    (1.15, 1.50, 0.55), (1.10, 1.30, 0.60), (1.40, 1.45, 0.45), (1.80, 1.80, 0.25), (1.90, 1.95, 0.15),
]
ISIC_RNX_FIT = [(0.02, 2.5), (0.05, 2.15), (0.1, 1.95), (0.2, 1.75), (0.3, 1.6), (0.6, 1.42), (1.0, 1.38), (1.4, 1.5),
                (1.7, 1.7), (1.92, 1.93)]

OCTMNIST_RN18_PTS = [
    (0.08, 0.92, 0.96), (0.08, 0.85, 0.96), (0.09, 0.80, 0.96), (0.10, 0.75, 0.96), (0.10, 0.70, 0.96),
    (0.11, 0.68, 0.96), (0.12, 0.72, 0.95), (0.13, 0.66, 0.95), (0.14, 0.63, 0.95), (0.15, 0.70, 0.95),
    (0.16, 0.60, 0.95), (0.18, 0.62, 0.94), (0.20, 0.60, 0.94), (0.22, 0.65, 0.93), (0.25, 0.63, 0.92),
    (0.28, 0.68, 0.90), (0.30, 0.72, 0.90), (0.25, 0.70, 0.92), (0.20, 0.68, 0.94), (0.35, 0.70, 0.85),
    (0.40, 0.80, 0.85), (0.55, 0.90, 0.80), (0.60, 1.03, 0.75), (0.70, 1.17, 0.70), (1.10, 1.32, 0.62),
    (1.15, 1.60, 0.45), (1.15, 1.65, 0.42), (1.20, 1.55, 0.45), (1.25, 1.40, 0.45),
]
OCTMNIST_RN18_FIT = [(0.08, 0.9), (0.1, 0.77), (0.12, 0.7), (0.16, 0.64), (0.2, 0.62), (0.3, 0.67), (0.5, 0.87),
                     (0.7, 1.08), (1.0, 1.38), (1.25, 1.58)]

ORGANAMNIST_RN18_PTS = [
    (0.0009, 0.17, 0.96), (0.0010, 0.15, 0.96), (0.0012, 0.19, 0.96), (0.0015, 0.14, 0.96), (0.0018, 0.18, 0.96),
    (0.0020, 0.16, 0.96), (0.0025, 0.13, 0.96), (0.0030, 0.19, 0.96), (0.0035, 0.15, 0.96), (0.0040, 0.12, 0.96),
    (0.0050, 0.17, 0.96), (0.0060, 0.14, 0.96), (0.0070, 0.19, 0.96), (0.0080, 0.13, 0.96), (0.010, 0.16, 0.96),
    (0.012, 0.12, 0.96), (0.015, 0.18, 0.96), (0.018, 0.14, 0.96), (0.020, 0.19, 0.96), (0.025, 0.13, 0.96),
    (0.030, 0.17, 0.96), (0.040, 0.15, 0.95), (0.050, 0.19, 0.95), (0.060, 0.14, 0.95), (0.080, 0.18, 0.95),
    (0.10, 0.20, 0.94), (0.15, 0.27, 0.90), (0.25, 0.35, 0.88), (0.60, 0.70, 0.80), (0.65, 0.80, 0.78),
    (1.50, 2.00, 0.20),
]
ORGANAMNIST_RN18_FIT = [(0.0008, 0.18), (0.003, 0.16), (0.01, 0.155), (0.03, 0.17), (0.1, 0.22), (0.3, 0.4), (0.6, 0.72),
                        (1.0, 1.15), (1.5, 2.0)]

ORGANCMNIST_RN18_PTS = [
    (0.0020, 0.21, 0.96), (0.0022, 0.17, 0.96), (0.0025, 0.14, 0.96), (0.0030, 0.20, 0.96), (0.0035, 0.16, 0.96),
    (0.0040, 0.13, 0.96), (0.0050, 0.19, 0.96), (0.0060, 0.15, 0.96), (0.0070, 0.12, 0.96), (0.0080, 0.17, 0.96),
    (0.010, 0.14, 0.96), (0.012, 0.19, 0.96), (0.015, 0.15, 0.96), (0.020, 0.13, 0.96), (0.025, 0.17, 0.96),
    (0.030, 0.14, 0.96), (0.040, 0.18, 0.95), (0.050, 0.16, 0.95), (0.060, 0.20, 0.95), (0.080, 0.15, 0.95),
    (0.10, 0.22, 0.94), (0.0030, 0.22, 0.96), (0.15, 0.25, 0.90), (0.30, 0.30, 0.88), (0.60, 0.60, 0.80),
    (0.70, 0.70, 0.78), (2.50, 2.20, 0.15),
]
ORGANCMNIST_RN18_FIT = [(0.002, 0.2), (0.005, 0.16), (0.01, 0.155), (0.03, 0.16), (0.1, 0.2), (0.3, 0.33), (0.7, 0.65),
                        (1.5, 1.3), (2.5, 2.2)]

ORGANSMNIST_RN18_PTS = [
    (0.0010, 0.95, 0.96), (0.0012, 1.00, 0.96), (0.0015, 0.85, 0.96), (0.0018, 0.75, 0.96), (0.0020, 0.90, 0.96),
    (0.0025, 1.02, 0.96), (0.0030, 0.70, 0.96), (0.0035, 0.80, 0.96), (0.0040, 0.65, 0.96), (0.0050, 0.75, 0.96),
    (0.0060, 0.60, 0.96), (0.0070, 0.85, 0.96), (0.0080, 0.70, 0.96), (0.010, 0.55, 0.96), (0.012, 0.65, 0.96),
    (0.015, 0.60, 0.96), (0.020, 0.75, 0.95), (0.025, 0.55, 0.95), (0.030, 0.80, 0.95), (0.040, 0.60, 0.95),
    (0.050, 0.52, 0.95), (0.060, 0.65, 0.94), (0.080, 0.50, 0.94), (0.10, 0.70, 0.93), (0.12, 0.55, 0.90),
    (0.15, 0.50, 0.88), (0.20, 0.62, 0.86), (0.25, 0.50, 0.85), (0.30, 0.68, 0.84), (0.70, 0.90, 0.80),
    (1.50, 2.30, 0.20), (1.55, 2.35, 0.15),
]
ORGANSMNIST_RN18_FIT = [(0.001, 0.88), (0.003, 0.75), (0.01, 0.66), (0.03, 0.6), (0.1, 0.56), (0.2, 0.58), (0.4, 0.7),
                        (0.7, 1.0), (1.0, 1.4), (1.25, 1.8), (1.5, 2.35)]

PATHMNIST_RN18_PTS = [
    (0.008, 0.30, 0.96), (0.009, 0.50, 0.96), (0.010, 0.40, 0.96), (0.011, 0.60, 0.96), (0.012, 0.25, 0.96),
    (0.013, 0.55, 0.96), (0.015, 0.35, 0.96), (0.016, 0.45, 0.96), (0.018, 0.68, 0.96), (0.020, 0.30, 0.96),
    (0.022, 0.50, 0.96), (0.025, 0.40, 0.96), (0.028, 0.62, 0.95), (0.030, 0.25, 0.95), (0.035, 0.45, 0.95),
    (0.040, 0.55, 0.95), (0.045, 0.30, 0.95), (0.050, 0.60, 0.95), (0.060, 0.40, 0.94), (0.070, 0.35, 0.94),
    (0.080, 0.75, 0.94), (0.090, 0.45, 0.93), (0.10, 0.30, 0.93), (0.12, 0.60, 0.92), (0.14, 0.40, 0.92),
    (0.16, 0.80, 0.90), (0.18, 0.50, 0.90), (0.20, 0.45, 0.90), (0.40, 0.80, 0.82), (0.50, 0.70, 0.80),
    (0.60, 0.60, 0.80), (0.60, 0.90, 0.76), (0.70, 1.00, 0.74), (0.90, 0.85, 0.72), (1.50, 1.40, 0.60),
    (2.00, 1.90, 0.25), (2.20, 2.20, 0.15),
]
PATHMNIST_RN18_FIT = [(0.008, 0.45), (0.03, 0.45), (0.1, 0.48), (0.2, 0.55), (0.4, 0.7), (0.7, 0.95), (1.0, 1.2), (1.5, 1.6),
                      (2.2, 2.2)]

PNEUMONIA_RN18_PTS = [
    (6e-5, 0.85, 0.96), (7e-5, 0.78, 0.96), (8e-5, 0.88, 0.96), (1e-4, 0.97, 0.96), (1.2e-4, 0.75, 0.96),
    (1.5e-4, 0.80, 0.96), (1.8e-4, 0.62, 0.96), (2e-4, 0.70, 0.96), (2.5e-4, 0.75, 0.96), (3e-4, 0.65, 0.96),
    (3e-4, 0.52, 0.96), (3.5e-4, 0.60, 0.96), (4e-4, 0.72, 0.96), (5e-4, 0.50, 0.96), (5e-4, 0.62, 0.96),
    (6e-4, 0.55, 0.96), (7e-4, 0.47, 0.96), (8e-4, 0.58, 0.96), (1e-3, 0.65, 0.96), (1e-3, 0.45, 0.96),
    (1.2e-3, 0.50, 0.96), (1.5e-3, 0.47, 0.96), (1.5e-3, 0.38, 0.96), (2e-3, 0.55, 0.96), (2.5e-3, 0.47, 0.96),
    (3e-3, 0.40, 0.96), (4e-3, 0.47, 0.96), (5e-3, 0.35, 0.96), (6e-3, 0.45, 0.96), (8e-3, 0.38, 0.96),
    (1e-2, 0.40, 0.96), (1.5e-2, 0.45, 0.95), (2e-2, 0.35, 0.95), (3e-2, 0.28, 0.95), (3.5e-2, 0.25, 0.95),
    (4e-2, 0.42, 0.95), (6e-2, 0.36, 0.94), (8e-2, 0.33, 0.94), (0.10, 0.30, 0.93), (0.12, 0.38, 0.92),
    (0.15, 0.42, 0.85), (0.50, 0.60, 0.75), (0.55, 0.68, 0.75), (0.60, 0.70, 0.72),
]
PNEUMONIA_RN18_FIT = [(6e-5, 0.86), (2e-4, 0.73), (1e-3, 0.57), (5e-3, 0.45), (2e-2, 0.38), (6e-2, 0.34), (0.1, 0.34),
                      (0.2, 0.4), (0.3, 0.45), (0.4, 0.52), (0.5, 0.6), (0.6, 0.7)]

RETINAMNIST_RN18_PTS = [
    (8e-5, 4.9, 0.96), (1e-4, 4.5, 0.96), (1.5e-4, 4.2, 0.96), (2e-4, 3.9, 0.96), (2.5e-4, 4.4, 0.96),
    (3e-4, 3.6, 0.96), (3.5e-4, 3.3, 0.96), (4e-4, 3.8, 0.96), (5e-4, 3.1, 0.96), (6e-4, 3.5, 0.96),
    (7e-4, 2.9, 0.96), (8e-4, 3.7, 0.96), (1e-3, 2.6, 0.96), (1e-3, 3.0, 0.96), (1.2e-3, 2.8, 0.96),
    (1.5e-3, 2.4, 0.96), (2e-3, 2.6, 0.96), (2.5e-3, 2.3, 0.96), (3e-3, 3.3, 0.96), (3e-3, 2.1, 0.96),
    (4e-3, 2.2, 0.96), (5e-3, 2.0, 0.96), (7e-3, 1.95, 0.96), (1e-2, 1.8, 0.96), (1.5e-2, 1.7, 0.96),
    (2e-2, 1.75, 0.96), (3e-2, 1.6, 0.95), (5e-2, 1.55, 0.95), (0.10, 1.45, 0.95), (0.20, 1.40, 0.94),
    (0.30, 1.35, 0.94), (0.50, 1.30, 0.92), (1.00, 1.35, 0.50), (1.20, 1.45, 0.42), (1.30, 1.50, 0.40),
    (1.5e-3, 3.6, 0.85), (2e-3, 3.5, 0.85),
]
RETINAMNIST_RN18_FIT = [(8e-5, 5.0), (3e-4, 4.0), (1e-3, 3.2), (3e-3, 2.6), (1e-2, 2.1), (3e-2, 1.8), (0.1, 1.55),
                        (0.3, 1.38), (0.7, 1.3), (1.0, 1.32), (1.3, 1.5)]

TINY_CVT_PTS = [
    (3.65, 1.85, 0.30), (3.70, 1.90, 0.30), (3.95, 2.10, 0.25), (4.00, 2.15, 0.25), (4.10, 2.30, 0.22),
    (4.20, 2.50, 0.20), (4.90, 4.10, 0.10), (4.95, 4.20, 0.10), (5.00, 4.45, 0.08), (5.05, 4.60, 0.07),
    (5.15, 5.00, 0.05), (5.20, 5.05, 0.05), (5.25, 5.20, 0.04), (5.30, 5.30, 0.03),
]
TINY_CVT_FIT = [(3.65, 1.83), (4.0, 2.3), (4.5, 3.2), (5.0, 4.4), (5.3, 5.3)]

TINY_WRN_PTS = [
    (1.05, 1.80, 0.75), (1.10, 1.85, 0.75), (1.20, 1.70, 0.72), (1.30, 1.60, 0.70), (1.40, 1.80, 0.70),
    (1.50, 1.65, 0.70), (1.55, 1.60, 0.68), (2.20, 1.90, 0.55), (2.40, 2.10, 0.40), (2.50, 2.15, 0.35),
    (3.00, 2.50, 0.30), (4.00, 3.70, 0.10), (5.00, 4.85, 0.05), (5.10, 4.90, 0.05), (5.20, 5.00, 0.05),
    (5.30, 5.30, 0.04),
]
TINY_WRN_FIT = [(1.05, 1.82), (1.2, 1.72), (1.4, 1.65), (1.7, 1.68), (2.0, 1.8), (2.5, 2.2), (3.0, 2.7), (4.0, 3.75),
                (5.3, 5.3)]

TISSUEMNIST_RN18_PTS = [
    (0.68, 0.76, 0.78), (0.70, 0.75, 0.78), (0.72, 0.77, 0.78), (0.74, 0.78, 0.78), (0.76, 0.76, 0.78),
    (0.78, 0.80, 0.78), (0.80, 0.79, 0.78), (0.82, 0.82, 0.77), (0.84, 0.81, 0.77), (0.86, 0.84, 0.77),
    (0.88, 0.86, 0.76), (0.90, 0.88, 0.76), (0.92, 0.90, 0.75), (0.95, 0.92, 0.75), (1.00, 0.95, 0.72),
    (1.10, 1.05, 0.68), (1.15, 1.12, 0.65), (1.30, 1.28, 0.55), (1.40, 1.38, 0.50), (1.55, 1.50, 0.45),
    (1.80, 1.80, 0.30), (1.85, 1.85, 0.25), (1.97, 1.97, 0.20),
]
TISSUEMNIST_RN18_FIT = [(0.68, 0.76), (0.8, 0.79), (0.9, 0.85), (1.0, 0.93), (1.25, 1.2), (1.5, 1.46), (1.75, 1.73),
                        (1.97, 1.98)]

POINTS = [
    BLOODMNIST_RN18_PTS, BREASTMNIST_RN18_PTS, CIFAIR10_WRN_PTS, CIFAR100_CCT_PTS, CIFAR100_MLP_PTS,
    CIFAR100_RN20_PTS, CIFAR100_RNX_PTS, CIFAR100_WRN_PTS, CIFAR10_MLP_PTS, CIFAR10_CCT_PTS,
    CIFAR10_RN20_PTS, CIFAR10_RNX_PTS, CIFAR10_WRN_PTS, CLAMM_EFF_PTS, CLAMM_RN50_PTS,
    CLAMM_RNX_PTS, CUB_EFF_PTS, CUB_RN50_PTS, CUB_RNX_PTS, DERMAMNIST_RN18_PTS,
    EUROSAT_EFF_PTS, EUROSAT_RN50_PTS, EUROSAT_RNX_PTS, FLOWERS_RN50_PTS, ISIC_EFF_PTS,
    ISIC_RN50_PTS, ISIC_RNX_PTS, OCTMNIST_RN18_PTS, ORGANAMNIST_RN18_PTS, ORGANCMNIST_RN18_PTS,
    ORGANSMNIST_RN18_PTS, PATHMNIST_RN18_PTS, PNEUMONIA_RN18_PTS, RETINAMNIST_RN18_PTS, TINY_CVT_PTS,
    TINY_WRN_PTS, TISSUEMNIST_RN18_PTS,
]
FITS = [
    BLOODMNIST_RN18_FIT, BREASTMNIST_RN18_FIT, CIFAIR10_WRN_FIT, CIFAR100_CCT_FIT, CIFAR100_MLP_FIT,
    CIFAR100_RN20_FIT, CIFAR100_RNX_FIT, CIFAR100_WRN_FIT, CIFAR10_MLP_FIT, CIFAR10_CCT_FIT,
    CIFAR10_RN20_FIT, CIFAR10_RNX_FIT, CIFAR10_WRN_FIT, CLAMM_EFF_FIT, CLAMM_RN50_FIT,
    CLAMM_RNX_FIT, CUB_EFF_FIT, CUB_RN50_FIT, CUB_RNX_FIT, DERMAMNIST_RN18_FIT,
    EUROSAT_EFF_FIT, EUROSAT_RN50_FIT, EUROSAT_RNX_FIT, FLOWERS_RN50_FIT, ISIC_EFF_FIT,
    ISIC_RN50_FIT, ISIC_RNX_FIT, OCTMNIST_RN18_FIT, ORGANAMNIST_RN18_FIT, ORGANCMNIST_RN18_FIT,
    ORGANSMNIST_RN18_FIT, PATHMNIST_RN18_FIT, PNEUMONIA_RN18_FIT, RETINAMNIST_RN18_FIT, TINY_CVT_FIT,
    TINY_WRN_FIT, TISSUEMNIST_RN18_FIT,
]

# axis tick specs: (x_is_log, x_ticks (exponents if log), x_fmt, y_is_log, y_ticks, y_fmt)
AXES = [
    (True, [-2, 0], None, True, [-1, 0], None),
    (True, [-4, -1], None, False, [0.5, 1.0], "%.1f"),
    (True, [-2, 0], None, False, [2, 3], "%d"),
    (False, [3.5, 4.0, 4.5], "%.1f", False, [2, 3, 4], "%d"),
    (False, [3.5, 4.0, 4.5], "%.1f", False, [3, 4], "%d"),
    (False, [2, 4], "%d", False, [1, 2, 3, 4], "%d"),
    (False, [2, 4], "%d", False, [1, 2, 3, 4], "%d"),
    (False, [2, 4], "%d", False, [2, 4], "%d"),
    (False, [1, 2], "%d", False, [1.0, 1.5, 2.0], "%.1f"),
    (False, [1.75, 2.0, 2.25], "%.2f", False, [0.5, 1.0, 1.5, 2.0], "%.1f"),
    (False, [0, 1, 2], "%d", True, [0], None),
    (False, [0, 1, 2], "%d", False, [1, 2], "%d"),
    (False, [1, 2], "%d", True, [0], None),
    (False, [0, 1, 2], "%d", False, [1.0, 1.5, 2.0, 2.5], "%.1f"),
    (True, [-1, 0], None, True, [0, 1], None),
    (True, [-1, 0], None, True, [0, 1, 2], None),
    (True, [-1, 0], None, False, [2, 4], "%d"),
    (True, [-1, 0], None, False, [2, 4], "%d"),
    (True, [-2, -1, 0], None, True, [0, 1], None),
    (True, [-2, 0], None, False, [1.0, 1.5], "%.1f"),
    (True, [-1, 0], None, True, [0, 1, 2], None),
    (True, [-2, -1, 0], None, True, [0, 1], None),
    (True, [-2, -1, 0], None, True, [0, 1], None),
    (True, [-2, -1, 0], None, True, [0], None),
    (False, [0, 1, 2], "%d", False, [2, 3, 4], "%d"),
    (True, [-1, 0], None, False, [2, 4], "%d"),
    (False, [0, 1, 2], "%d", False, [2, 3], "%d"),
    (False, [0.5, 1.0], "%.1f", False, [1.0, 1.5], "%.1f"),
    (True, [-2, 0], None, True, [0], None),
    (True, [-2, -1, 0], None, True, [0], None),
    (True, [-2, 0], None, False, [1, 2], "%d"),
    (True, [-2, -1, 0], None, False, [1, 2], "%d"),
    (True, [-3, -1], None, False, [0.25, 0.5, 0.75, 1.0], "%.2f"),
    (True, [-3, 0], None, False, [2, 4], "%d"),
    (False, [4, 5], "%d", False, [2, 3, 4, 5], "%d"),
    (False, [2, 4], "%d", False, [2, 4], "%d"),
    (False, [1.0, 1.5, 2.0], "%.1f", False, [1.0, 1.5, 2.0], "%.1f"),
]
LEGEND_PANEL = 4
CBAR_TICKS = [0.0, 0.2, 0.4, 0.6, 0.8, 1.0]

# ---------------- style ----------------
FONT = "DejaVu Sans"
COOLWARM_ANCHORS = [(0.0, (59, 76, 192)), (0.125, (98, 130, 234)), (0.25, (141, 176, 254)),
                    (0.375, (184, 208, 249)), (0.5, (221, 220, 220)), (0.625, (245, 196, 173)),
                    (0.75, (244, 154, 123)), (0.875, (222, 96, 77)), (1.0, (180, 4, 38))]


def build_palette(n=256):
    ts = [a[0] for a in COOLWARM_ANCHORS]
    cols = np.array([a[1] for a in COOLWARM_ANCHORS], dtype=float)
    out = []
    for t in np.linspace(0, 1, n):
        r = np.interp(t, ts, cols[:, 0]); g = np.interp(t, ts, cols[:, 1]); b = np.interp(t, ts, cols[:, 2])
        out.append("#%02x%02x%02x" % (int(round(r)), int(round(g)), int(round(b))))
    return out


PALETTE = build_palette()
MINOR = [m * 10.0 ** k for k in range(-7, 4) for m in range(2, 10)]
XLABEL = "\u2112\u0304\u209c\u1d63\u2090\u1d62\u2099"
YLABEL = "\u2112\u0304\u209c\u2091\u209b\u209c"
LEGEND_TEXT = ("\u2112\u0304\u209c\u2091\u209b\u209c = B\u2112\u0304\u1d5d\u209c\u1d63\u2090\u1d62\u2099"
               " + V\u2112\u0304\u207b\u1d5b\u209c\u1d63\u2090\u1d62\u2099 + E")

LOG_FMT_CODE = """
const sup = {"-": "\u207b", "0": "\u2070", "1": "\u00b9", "2": "\u00b2", "3": "\u00b3", "4": "\u2074",
             "5": "\u2075", "6": "\u2076", "7": "\u2077", "8": "\u2078", "9": "\u2079"};
const e = Math.round(Math.log10(tick));
return "10" + String(e).split("").map(c => sup[c]).join("");
"""

# approximate DejaVu Sans Bold advance widths (em) used to keep long titles inside their panel
BOLD_EM = {"a": 0.675, "b": 0.716, "c": 0.593, "d": 0.716, "e": 0.678, "f": 0.435, "g": 0.716, "h": 0.712,
           "i": 0.343, "k": 0.665, "l": 0.343, "m": 1.042, "n": 0.712, "o": 0.687, "p": 0.716, "r": 0.493,
           "s": 0.595, "t": 0.478, "u": 0.712, "v": 0.652, "w": 0.924, "x": 0.645, "y": 0.652, " ": 0.348,
           ",": 0.380, "-": 0.415}

BL, BR, BT, BB = 60, 8, 22, 40   # borders
FW, FH = 159, 137                # frame
CW = BL + FW + BR                # canvas width


def style_axis(ax, is_log, ticks, fmt):
    ax.axis_line_color = "black"
    ax.axis_line_width = 1.1
    ax.major_tick_line_color = "black"
    ax.major_tick_out = 4
    ax.major_tick_in = 0
    ax.major_label_text_font = FONT
    ax.major_label_text_font_size = "14px"
    ax.major_label_standoff = 2
    ax.axis_label_text_font = FONT
    ax.axis_label_text_font_size = "14px"
    ax.axis_label_text_font_style = "normal"
    ax.axis_label_standoff = 1
    if is_log:
        ax.ticker = FixedTicker(ticks=[10.0 ** e for e in ticks], minor_ticks=MINOR)
        ax.formatter = CustomJSTickFormatter(code=LOG_FMT_CODE)
        ax.minor_tick_line_color = "black"
        ax.minor_tick_out = 2
        ax.minor_tick_in = 0
    else:
        ax.ticker = FixedTicker(ticks=ticks)
        ax.formatter = PrintfTickFormatter(format=fmt)
        ax.minor_tick_line_color = None


def style_grid(g, is_log):
    g.grid_line_color = "#b0b0b0"
    g.grid_line_alpha = 0.45
    g.grid_line_dash = "4 3"
    g.grid_line_width = 0.8
    if is_log:
        g.minor_grid_line_color = "#b0b0b0"
        g.minor_grid_line_alpha = 0.35
        g.minor_grid_line_dash = "4 3"
        g.minor_grid_line_width = 0.7


def set_title(p, title):
    size = 14.0
    w = size * sum(BOLD_EM.get(c, 0.696) for c in title)
    if w > CW - 6:
        size = size * (CW - 6) / w
        w = CW - 6
    t = p.title
    t.text = title
    t.text_font = FONT
    t.text_font_style = "bold"
    t.text_font_size = "%.1fpx" % size
    t.standoff = 2
    if w <= 2 * (FW / 2.0 + BR) - 4:
        t.align = "center"
    else:
        left = max(3.0, CW - 3 - w)          # canvas x where the text starts
        t.align = "left"
        t.offset = left - BL


def make_panel(i):
    xlog, xt, xf, ylog, yt, yf = AXES[i]
    p = figure(frame_width=FW, frame_height=FH, min_border_left=BL, min_border_right=BR,
               min_border_top=BT, min_border_bottom=BB, title=" ",
               x_axis_type="log" if xlog else "linear", y_axis_type="log" if ylog else "linear",
               output_backend="svg", toolbar_location=None)
    p.outline_line_color = None
    p.background_fill_color = "white"
    style_axis(p.xaxis[0], xlog, xt, xf)
    style_axis(p.yaxis[0], ylog, yt, yf)
    p.xaxis[0].axis_label = XLABEL
    p.yaxis[0].axis_label = YLABEL
    style_grid(p.xgrid[0], xlog)
    style_grid(p.ygrid[0], ylog)

    pts = POINTS[i]
    src = ColumnDataSource(dict(x=[t[0] for t in pts], y=[t[1] for t in pts], acc=[t[2] for t in pts]))
    p.scatter("x", "y", source=src, size=9, line_color=None, fill_alpha=0.8,
              fill_color=linear_cmap("acc", PALETTE, 0, 1))
    fit = FITS[i]
    line_r = p.line([t[0] for t in fit], [t[1] for t in fit], line_color="black", line_width=1.3,
                    line_join="round")

    B, b, V, v, E = PARAMS[i]
    txt = f"B = {B}\nb = {b}\nV = {V}\nv = {v}\nE = {E}"
    p.add_layout(Label(x=0.35 * FW, y=FH - 6, x_units="screen", y_units="screen", text=txt,
                       text_font=FONT, text_font_size="9px", text_baseline="top", text_align="left",
                       text_line_height=1.2, background_fill_color="white", background_fill_alpha=0.85,
                       border_line_color="#999999", border_line_width=1, padding=4, border_radius=3))
    if i == LEGEND_PANEL:
        leg = Legend(items=[LegendItem(label=LEGEND_TEXT, renderers=[line_r])], location="bottom_right",
                     label_text_font=FONT, label_text_font_size="8px", glyph_width=18, glyph_height=8,
                     padding=3, margin=3, spacing=0, label_standoff=3, border_line_color="#cccccc",
                     background_fill_alpha=0.85, label_height=11)
        p.add_layout(leg)
    set_title(p, TITLES[i])
    return p


panels = [make_panel(i) for i in range(len(TITLES))]
rows = []
for r in range(0, len(panels), 5):
    items = [Spacer(width=11, height=10)] + panels[r:r + 5]
    rows.append(row(*items))
grid = column(*rows)

# colour bar
cb = figure(frame_width=20, frame_height=1148, min_border_top=251, min_border_left=32, min_border_right=4,
            min_border_bottom=20, x_range=(0, 1), y_range=(0, 1), y_axis_location="right",
            output_backend="svg", toolbar_location=None)
grad = np.linspace(0, 1, 256).reshape(256, 1)
cb.image(image=[grad], x=0, y=0, dw=1, dh=1,
         color_mapper=LinearColorMapper(palette=PALETTE, low=0, high=1), global_alpha=0.8)
cb.xaxis.visible = False
cb.grid.visible = False
cb.outline_line_color = "black"
cb.outline_line_width = 0.8
cax = cb.yaxis[0]
cax.ticker = FixedTicker(ticks=CBAR_TICKS)
cax.formatter = PrintfTickFormatter(format="%.1f")
cax.axis_line_color = None
cax.major_tick_out = 4
cax.major_tick_in = 0
cax.minor_tick_line_color = None
cax.major_label_text_font = FONT
cax.major_label_text_font_size = "14px"
cax.major_label_standoff = 2
cax.axis_label = "Train Accuracy"
cax.axis_label_text_font = FONT
cax.axis_label_text_font_size = "15px"
cax.axis_label_text_font_style = "normal"
cax.axis_label_standoff = 2

layout = row(grid, cb)
open("out.html", "w").write(file_html(layout, INLINE))
